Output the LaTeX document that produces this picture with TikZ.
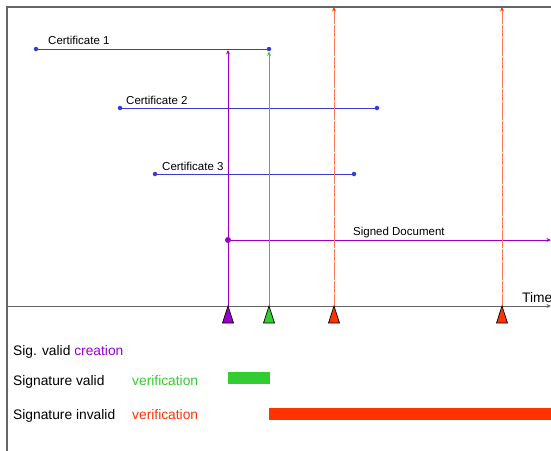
\documentclass[tikz,border=0pt]{standalone}
\usepackage{fontspec}
\setmainfont{Liberation Sans}
\usetikzlibrary{arrows.meta}
\definecolor{certblue}{HTML}{3A3ACC}
\definecolor{sigpurple}{HTML}{9900CC}
\definecolor{okgreen}{HTML}{33CC33}
\definecolor{badred}{HTML}{FF3300}
\definecolor{framegray}{HTML}{666666}
\begin{document}
\begin{tikzpicture}[x=1pt,y=-1pt,
  frameline/.style={draw=framegray, line width=1.3pt},
  cert/.style={draw=certblue, line width=0.8pt},
  certend/.style={circle, fill=certblue, inner sep=0pt, minimum size=4.5pt},
  smalltext/.style={anchor=base west, inner sep=0pt, font=\fontsize{11.5}{13}\selectfont},
  bigtext/.style={anchor=base west, inner sep=0pt, font=\fontsize{13.8}{16}\selectfont},
  tip/.style={-{Stealth[length=4.5pt,width=4pt]}},
  event/.style={line width=0.8pt, tip},
  invalid/.style={draw=badred!65, line width=0.9pt, dash pattern=on 6pt off 0.4pt, -{Stealth[length=4.5pt,width=4pt,color=badred]}},
  bar/.style={anchor=north west, inner sep=0pt, minimum height=12pt},
  pics/evmark/.style={code={
    \filldraw[fill=#1, draw=black, line width=0.7pt] (-5.5,17) -- (0,0) -- (5.5,17) -- cycle;}}
]
\useasboundingbox (0,0) rectangle (551,450);
\clip (0,0) rectangle (551,450);

% frame of the time chart
\coordinate (fl) at (7,452);
\coordinate (fc) at (7,7);
\coordinate (fr) at (553,7);
\draw[frameline] (fl) -- (fc) -- (fr);

% time axis
\coordinate (t0) at (7,306);
\coordinate (t1) at (551,306);
\draw[draw=framegray, line width=1pt, tip] (t0) -- (t1);
\node[bigtext] (time) at (522,302) {Time};

% event instants on the axis
\coordinate (e1) at (228,306);
\coordinate (e2) at (269,306);
\coordinate (e3) at (334,306);
\coordinate (e4) at (502,306);

% certificate validity periods
\node[certend] (c1a) at (36,49) {};
\node[certend] (c1b) at (269,49) {};
\draw[cert] (c1a) -- (c1b);
\node[smalltext] (l1) at (48,44) {Certificate 1};

\node[certend] (c2a) at (120,108) {};
\node[certend] (c2b) at (377,108) {};
\draw[cert] (c2a) -- (c2b);
\node[smalltext] (l2) at (126,104) {Certificate 2};

\node[certend] (c3a) at (155,174) {};
\node[certend] (c3b) at (354,174) {};
\draw[cert] (c3a) -- (c3b);
\node[smalltext] (l3) at (162,170) {Certificate 3};

% signed document lifetime
\node[circle, fill=sigpurple, inner sep=0pt, minimum size=6pt] (doc) at (228,240) {};
\coordinate (docend) at (551,240);
\draw[draw=sigpurple, line width=0.8pt, tip] (doc) -- (docend);
\node[smalltext] (ldoc) at (353,235) {Signed Document};

% vertical event lines
\coordinate (p1) at (228,50);
\draw[event, draw=sigpurple] (e1) -- (p1);
\draw[event, draw=okgreen] (e2) -- (c1b.south);
\coordinate (r1) at (334,7);
\coordinate (r2) at (502,7);
\draw[invalid] (e3) -- (r1);
\draw[invalid] (e4) -- (r2);

% markers on the axis
\pic at (e1) {evmark=sigpurple};
\pic at (e2) {evmark=okgreen};
\pic at (e3) {evmark=badred};
\pic at (e4) {evmark=badred};

% legend
\node[bigtext] (lg1) at (13,355) {Sig. valid \textcolor{sigpurple}{creation}};
\node[bigtext] (lg2) at (13,385) {Signature valid};
\node[bigtext, text=okgreen] (lg2b) at (132,385) {verification};
\node[bigtext] (lg3) at (13,419) {Signature invalid};
\node[bigtext, text=badred] (lg3b) at (132,419) {verification};

% validity bars
\node[bar, fill=okgreen, minimum width=42pt] (okbar) at (228,372) {};
\node[bar, fill=badred, minimum width=290pt] (badbar) at (269,408) {};
\end{tikzpicture}
\end{document}
